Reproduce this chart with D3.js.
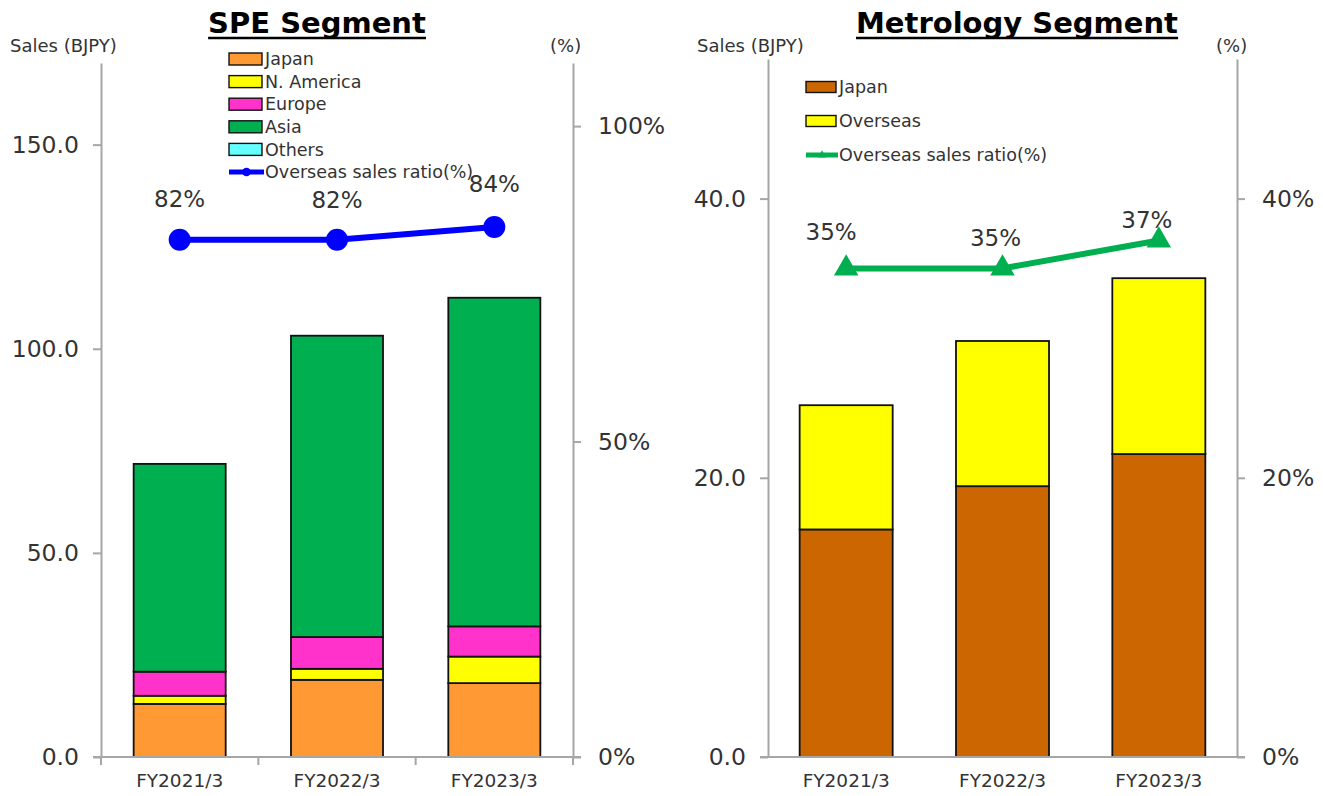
<!DOCTYPE html>
<html>
<head>
<meta charset="utf-8">
<script src="https://cdn.jsdelivr.net/npm/d3@7"></script>
<style>
  html, body { margin: 0; padding: 0; background: #fff; }
  svg { display: block; font-family: "DejaVu Sans", Verdana, sans-serif; }
</style>
</head>
<body>
<svg id="chart" width="1323" height="796"></svg>
<script>
// Fiscal years shown on both panels
const categories = ["FY2021/3", "FY2022/3", "FY2023/3"];

// SPE segment sales by region (BJPY)
const speJapan    = [13.0, 18.9, 18.1];
const speNAmerica = [2.0, 2.7, 6.5];
const speEurope   = [5.9, 7.8, 7.4];
const speAsia     = [50.9, 73.8, 80.5];
const speOthers   = [0, 0, 0];
const speRatio    = [82, 82, 84];          // overseas sales ratio (%)
const speLeftTicks  = [0, 50, 100, 150];
const speRightTicks = [0, 50, 100];

// Metrology segment sales (BJPY)
const metJapan    = [16.3, 19.4, 21.7];
const metOverseas = [8.9, 10.4, 12.6];
const metRatio    = [35, 35, 37];          // overseas sales ratio (%)
const metLeftTicks  = [0, 20, 40];
const metRightTicks = [0, 20, 40];

const svg = d3.select("#chart");
const axisColor = "#a6a6a6";
const textColor = "#333";

function drawPanel(cfg) {
  const g = svg.append("g");
  const x = d3.scaleBand().domain(categories)
    .range([cfg.x0, cfg.x1])
    .paddingInner(cfg.pad).paddingOuter(cfg.pad / 2);
  const yL = d3.scaleLinear().domain([0, cfg.leftMax]).range([cfg.yBase, cfg.yTop]);
  const yR = d3.scaleLinear().domain([0, cfg.rightMax]).range([cfg.yBase, cfg.yTop]);

  // stacked bars
  const rows = categories.map((c, i) => {
    const r = { cat: c };
    cfg.series.forEach(s => r[s.key] = s.values[i]);
    return r;
  });
  const stack = d3.stack().keys(cfg.series.map(s => s.key))(rows);
  stack.forEach((layer, li) => {
    g.append("g").selectAll("rect").data(layer).join("rect")
      .attr("x", d => x(d.data.cat))
      .attr("width", x.bandwidth())
      .attr("y", d => yL(d[1]))
      .attr("height", d => yL(d[0]) - yL(d[1]))
      .attr("fill", cfg.series[li].color)
      .attr("stroke", "#111")
      .attr("stroke-width", d => (d[1] - d[0]) > 0 ? 1.8 : 0);
  });

  // left axis
  const la = g.append("g").attr("transform", `translate(${cfg.x0},0)`)
    .call(d3.axisLeft(yL).tickValues(cfg.leftTicks).tickFormat(d3.format(".1f"))
      .tickSize(8).tickSizeOuter(0).tickPadding(14));
  // right axis
  const ra = g.append("g").attr("transform", `translate(${cfg.x1},0)`)
    .call(d3.axisRight(yR).tickValues(cfg.rightTicks).tickFormat(d => d + "%")
      .tickSize(8).tickSizeOuter(0).tickPadding(17));
  [la, ra].forEach(a => {
    a.selectAll("path, line").attr("stroke", axisColor).attr("stroke-width", 2);
    a.selectAll("text").attr("fill", textColor).style("font-size", "23.5px")
      .style("font-family", "DejaVu Sans, sans-serif");
  });

  // bottom axis: baseline with category labels
  const ba = g.append("g").attr("transform", `translate(0,${cfg.yBase})`)
    .call(d3.axisBottom(x).tickSize(0).tickPadding(17));
  ba.select(".domain").remove();
  ba.selectAll("text").attr("fill", textColor).style("font-size", "18.5px")
    .style("font-family", "DejaVu Sans, sans-serif");
  g.append("line")
    .attr("x1", cfg.x0 - 8).attr("x2", cfg.x1 + 8)
    .attr("y1", cfg.yBase).attr("y2", cfg.yBase)
    .attr("stroke", axisColor).attr("stroke-width", 2);
  if (cfg.catTicks) {
    const bounds = categories.map(c => x(c) - x.step() * cfg.pad / 2)
      .concat([cfg.x1]);
    g.append("g").selectAll("line").data(bounds).join("line")
      .attr("x1", d => d).attr("x2", d => d)
      .attr("y1", cfg.yBase).attr("y2", cfg.yBase + 8)
      .attr("stroke", axisColor).attr("stroke-width", 2);
  }

  // ratio line on the right axis
  const cx = (c) => x(c) + x.bandwidth() / 2;
  const line = d3.line().x((d, i) => cx(categories[i])).y(d => yR(d));
  g.append("path").datum(cfg.ratio)
    .attr("d", line).attr("fill", "none")
    .attr("stroke", cfg.lineColor).attr("stroke-width", cfg.lineWidth);
  g.append("g").selectAll("path.mk").data(cfg.ratio).join("path")
    .attr("class", "mk")
    .attr("transform", (d, i) => `translate(${cx(categories[i])},${yR(d)})`)
    .attr("d", d3.symbol().type(cfg.marker).size(cfg.markerSize))
    .attr("fill", cfg.lineColor);
  g.append("g").selectAll("text").data(cfg.ratio).join("text")
    .attr("x", (d, i) => cx(categories[i]) + cfg.labelDx[i])
    .attr("y", (d, i) => yR(d) + cfg.labelDy[i])
    .attr("text-anchor", "middle")
    .attr("fill", textColor)
    .style("font-size", "23px")
    .text(d => d + "%");

  // axis captions
  g.append("text").attr("x", cfg.salesX).attr("y", 52)
    .attr("fill", textColor).style("font-size", "18px").text("Sales (BJPY)");
  g.append("text").attr("x", cfg.pctX).attr("y", 52)
    .attr("fill", textColor).style("font-size", "18px").text("(%)");

  // title, bold and underlined
  const t = g.append("text").attr("x", cfg.titleX).attr("y", 33)
    .attr("text-anchor", "middle").attr("fill", "#000")
    .style("font-size", "29px").style("font-weight", "bold")
    .text(cfg.title);
  const bb = t.node().getBBox();
  g.append("line").attr("x1", bb.x).attr("x2", bb.x + bb.width)
    .attr("y1", 38).attr("y2", 38).attr("stroke", "#000").attr("stroke-width", 2.5);

  // legend
  const lg = g.append("g");
  cfg.series.forEach((s, i) => {
    const y = cfg.legY + i * cfg.legStep;
    lg.append("rect").attr("x", cfg.legX).attr("y", y - cfg.swH / 2)
      .attr("width", cfg.swW).attr("height", cfg.swH)
      .attr("fill", s.color).attr("stroke", "#111").attr("stroke-width", 1.4);
    lg.append("text").attr("x", cfg.legX + cfg.swW + 3).attr("y", y)
      .attr("dy", "0.35em").attr("fill", textColor).style("font-size", "17.5px")
      .text(s.label);
  });
  const ly = cfg.legY + cfg.series.length * cfg.legStep;
  lg.append("line").attr("x1", cfg.legX).attr("x2", cfg.legX + cfg.swW + 2)
    .attr("y1", ly).attr("y2", ly)
    .attr("stroke", cfg.lineColor).attr("stroke-width", cfg.lineWidth - 1);
  lg.append("path")
    .attr("transform", `translate(${cfg.legX + cfg.swW / 2 + 1},${ly})`)
    .attr("d", d3.symbol().type(cfg.marker).size(cfg.legMarkerSize))
    .attr("fill", cfg.lineColor);
  lg.append("text").attr("x", cfg.legX + cfg.swW + 3).attr("y", ly)
    .attr("dy", "0.35em").attr("fill", textColor).style("font-size", "17.5px")
    .text("Overseas sales ratio(%)");
}

drawPanel({
  title: "SPE Segment", titleX: 317,
  x0: 101, x1: 573, yTop: 63, yBase: 757, pad: 0.415,
  leftMax: 170, rightMax: 110,
  leftTicks: speLeftTicks, rightTicks: speRightTicks,
  series: [
    { key: "japan",  label: "Japan",      color: "#ff9933", values: speJapan },
    { key: "na",     label: "N. America", color: "#ffff00", values: speNAmerica },
    { key: "europe", label: "Europe",     color: "#ff33cc", values: speEurope },
    { key: "asia",   label: "Asia",       color: "#00b050", values: speAsia },
    { key: "others", label: "Others",     color: "#66ffff", values: speOthers }
  ],
  ratio: speRatio, lineColor: "#0000ff", lineWidth: 6,
  marker: d3.symbolCircle, markerSize: 380, legMarkerSize: 60,
  labelDx: [0, 0, 0], labelDy: [-33, -32, -35],
  catTicks: true,
  salesX: 10, pctX: 550,
  legX: 229, legY: 59, legStep: 22.6, swW: 33, swH: 12
});

drawPanel({
  title: "Metrology Segment", titleX: 1017,
  x0: 768, x1: 1237, yTop: 59, yBase: 757, pad: 0.405,
  leftMax: 50, rightMax: 50,
  leftTicks: metLeftTicks, rightTicks: metRightTicks,
  series: [
    { key: "japan",    label: "Japan",    color: "#cc6600", values: metJapan },
    { key: "overseas", label: "Overseas", color: "#ffff00", values: metOverseas }
  ],
  ratio: metRatio, lineColor: "#00b050", lineWidth: 6,
  marker: d3.symbolTriangle, markerSize: 260, legMarkerSize: 30,
  labelDx: [-15, -7, -12], labelDy: [-28, -22, -12],
  catTicks: false,
  salesX: 697, pctX: 1216,
  legX: 806, legY: 87, legStep: 34, swW: 30, swH: 11
});
</script>
</body>
</html>
